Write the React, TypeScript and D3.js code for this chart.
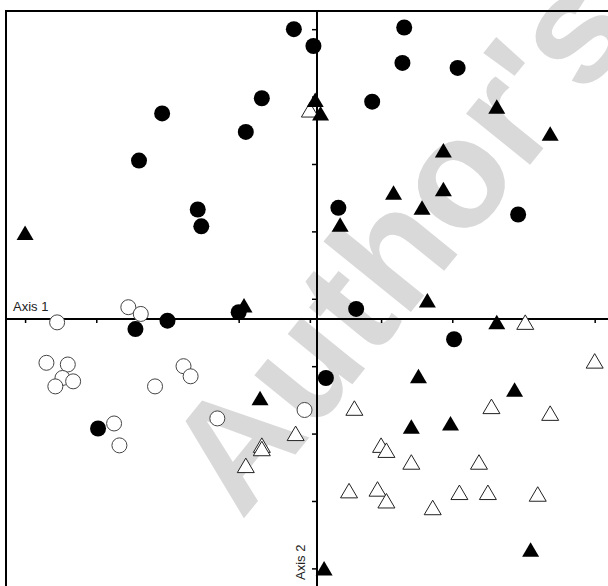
import React, { useEffect, useRef } from 'react';
import * as d3 from 'd3';

// ordination scores (axis 1, axis 2) by group
const filledCircles: [number, number][] = [
  [-0.13, 1.72], [-0.02, 1.62], [-0.31, 1.31], [-0.87, 1.22], [-0.4, 1.11],
  [-1.0, 0.94], [-0.67, 0.65], [-0.65, 0.55], [0.49, 1.73], [0.48, 1.52],
  [0.79, 1.49], [0.31, 1.29], [0.12, 0.66], [1.13, 0.62], [-1.02, -0.06],
  [-0.84, -0.01], [-0.44, 0.04], [-1.23, -0.65], [0.22, 0.06], [0.77, -0.12],
  [0.05, -0.35],
];

const openCircles: [number, number][] = [
  [-1.46, -0.02], [-1.06, 0.07], [-0.99, 0.03], [-1.52, -0.26], [-1.4, -0.27],
  [-1.43, -0.35], [-1.37, -0.37], [-1.47, -0.4], [-0.75, -0.28], [-0.71, -0.34],
  [-0.91, -0.4], [-0.07, -0.54], [-0.56, -0.59], [-1.14, -0.62], [-1.11, -0.75],
];

const filledTriangles: [number, number][] = [
  [-1.64, 0.51], [-0.01, 1.3], [0.02, 1.22], [1.01, 1.26], [1.31, 1.1],
  [0.71, 1.0], [0.43, 0.75], [0.71, 0.77], [0.59, 0.66], [0.13, 0.56],
  [-0.41, 0.08], [0.62, 0.11], [1.01, -0.02], [-0.32, -0.47], [0.57, -0.34],
  [1.11, -0.42], [0.53, -0.64], [0.75, -0.62], [1.2, -1.37], [0.04, -1.48],
];

const openTriangles: [number, number][] = [
  [-0.04, 1.24], [1.17, -0.02], [1.56, -0.25], [0.21, -0.53], [0.98, -0.52],
  [1.31, -0.56], [0.36, -0.75], [0.39, -0.78], [0.53, -0.85], [0.91, -0.85],
  [0.18, -1.02], [0.34, -1.01], [0.39, -1.08], [0.65, -1.12], [0.8, -1.03],
  [0.96, -1.03], [1.24, -1.04], [-0.12, -0.68], [-0.31, -0.75], [-0.31, -0.77],
  [-0.4, -0.87],
];

const xTicks = [-1.64, -1.24, -0.84, -0.44, -0.04, 0.36, 0.76, 1.16, 1.56];
const yTicks = [1.72, 1.32, 0.92, 0.52, 0.12, -0.28, -0.68, -1.08, -1.48];

const App = () => {
  const ref = useRef<HTMLDivElement>(null);

  useEffect(() => {
    d3.select(ref.current).selectAll('*').remove();

    const width = 608;
    const height = 586;
    const originX = 317;
    const originY = 319;
    const xUnit = 178;
    const yUnit = 168.5;

    const x = d3
      .scaleLinear()
      .domain([-1.78, 1.64])
      .range([originX - 1.78 * xUnit, originX + 1.64 * xUnit]);
    const y = d3
      .scaleLinear()
      .domain([-1.58, 1.85])
      .range([originY + 1.58 * yUnit, originY - 1.85 * yUnit]);

    const svg = d3
      .select(ref.current)
      .append('svg')
      .attr('width', width)
      .attr('height', height)
      .style('position', 'absolute')
      .style('left', 0)
      .style('top', 0)
      .style('background', '#fff');

    // watermark
    svg
      .append('text')
      .attr('transform', 'translate(440, 276) rotate(-51)')
      .attr('text-anchor', 'middle')
      .attr('font-family', 'Liberation Sans, Arial, sans-serif')
      .attr('font-weight', 'bold')
      .attr('font-size', 155)
      .attr('fill', '#d9d9d9')
      .text("Author's");

    // frame (only top and left are inside the picture)
    svg
      .append('rect')
      .attr('x', 6)
      .attr('y', 11)
      .attr('width', 640)
      .attr('height', 620)
      .attr('fill', 'none')
      .attr('stroke', '#000')
      .attr('stroke-width', 2);

    // axes through the origin
    const xAxis = svg
      .append('g')
      .attr('transform', `translate(0, ${y(0)})`)
      .call(d3.axisBottom(x).tickValues(xTicks).tickSize(4).tickFormat(() => ''));
    const yAxis = svg
      .append('g')
      .attr('transform', `translate(${x(0)}, 0)`)
      .call(d3.axisLeft(y).tickValues(yTicks).tickSize(5).tickFormat(() => ''));
    [xAxis, yAxis].forEach((g) => {
      g.select('.domain').remove();
      g.selectAll('line').attr('stroke', '#000').attr('stroke-width', 1.5);
    });

    svg
      .append('line')
      .attr('x1', 6)
      .attr('x2', width)
      .attr('y1', y(0))
      .attr('y2', y(0))
      .attr('stroke', '#000')
      .attr('stroke-width', 2);
    svg
      .append('line')
      .attr('x1', x(0))
      .attr('x2', x(0))
      .attr('y1', 11)
      .attr('y2', height)
      .attr('stroke', '#000')
      .attr('stroke-width', 2);

    svg
      .append('text')
      .attr('x', 13)
      .attr('y', 311)
      .attr('font-family', 'Liberation Sans, Arial, sans-serif')
      .attr('font-size', 13)
      .attr('fill', '#222')
      .text('Axis 1');

    svg
      .append('text')
      .attr('transform', `translate(${x(0) - 12}, 580) rotate(-90)`)
      .attr('font-family', 'Liberation Sans, Arial, sans-serif')
      .attr('font-size', 13)
      .attr('fill', '#222')
      .text('Axis 2');

    const tri = 'M0,-7.5L8.5,7L-8.5,7Z';

    svg
      .append('g')
      .selectAll('circle')
      .data(openCircles)
      .join('circle')
      .attr('cx', (d) => x(d[0]))
      .attr('cy', (d) => y(d[1]))
      .attr('r', 7.5)
      .attr('fill', '#fff')
      .attr('stroke', '#444')
      .attr('stroke-width', 1);

    svg
      .append('g')
      .selectAll('path')
      .data(openTriangles)
      .join('path')
      .attr('d', tri)
      .attr('transform', (d) => `translate(${x(d[0])}, ${y(d[1])})`)
      .attr('fill', '#fff')
      .attr('stroke', '#222')
      .attr('stroke-width', 1);

    svg
      .append('g')
      .selectAll('circle')
      .data(filledCircles)
      .join('circle')
      .attr('cx', (d) => x(d[0]))
      .attr('cy', (d) => y(d[1]))
      .attr('r', 8)
      .attr('fill', '#000');

    svg
      .append('g')
      .selectAll('path')
      .data(filledTriangles)
      .join('path')
      .attr('d', tri)
      .attr('transform', (d) => `translate(${x(d[0])}, ${y(d[1])})`)
      .attr('fill', '#000');
  }, []);

  return <div ref={ref} />;
};

export default App;
